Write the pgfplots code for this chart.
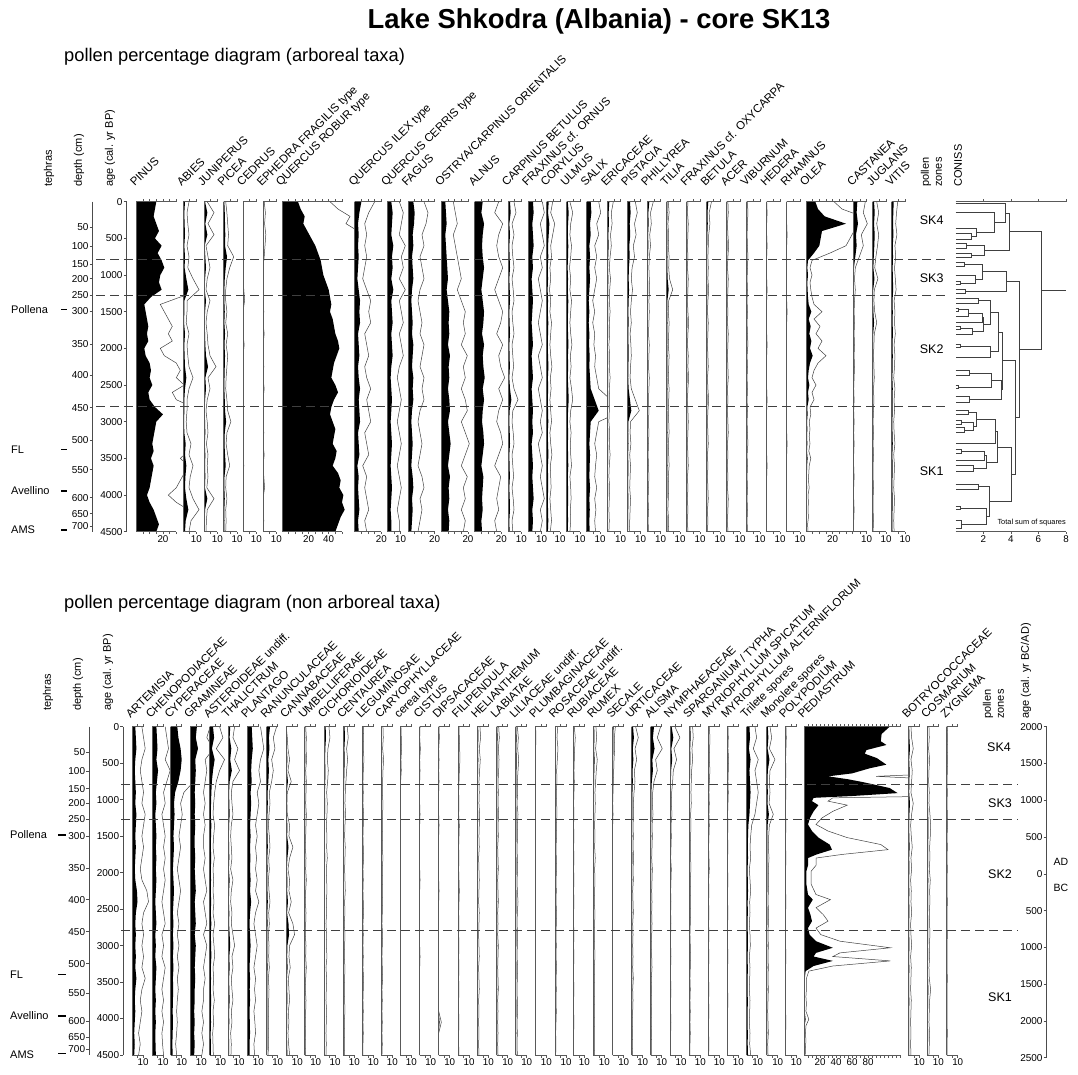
\documentclass[border=0pt]{standalone}
\usepackage{fontspec}
\setmainfont{Liberation Sans}
\usepackage{pgfplots}
\usepackage{pgfplotstable}
\pgfplotsset{compat=1.18}
\definecolor{axc}{gray}{0.35}
\definecolor{lnc}{gray}{0.25}
\tikzset{zd/.style={dash pattern=on 9pt off 5pt, black!75, line width=0.7pt}}

% ---------- arboreal taxa, 150-yr grid (rows = taxa, transposed below) ----------
\pgfplotstableread[header=false]{
age 0 150 300 450 600 750 900 1050 1200 1350 1500 1650 1800 1950 2100 2250 2400 2550 2700 2850 3000 3150 3300 3450 3600 3750 3900 4050 4200 4350 4500
abi 1.5 1 1.2 1.5 1 1.5 1.2 2.5 4 1 1 0.8 1.5 1 1.2 1.5 2.5 1.5 1 1 0.8 1 2 1.5 2.5 1.8 1.5 2.5 4 2 1.5
jun 0.8 2.5 1 2.5 0.5 1 1.5 0.8 0.5 1.5 0.8 0.5 0.8 1 1.5 3 1 1.5 0.8 0.5 0.8 1 0.6 1 0.8 1 0.7 2.5 0.8 0.6 0.5
pic 0.5 0.8 1 1.2 1 2.5 1.5 0.8 0.5 0.5 0.8 0.5 1 0.6 1 0.8 0.6 0.5 0.8 1 1.8 0.8 0.6 1 1.5 0.6 0.5 0.8 0.5 0.6 0.5
ced 0 0 0 0 0 0 0 0 0.2 0.4 0 0 0 0.3 0 0 0 0 0 0 0 0 0 0 0.2 0 0 0 0 0 0
eph 0.3 0.6 0.4 0.7 0.5 0.3 0 0 0 0 0.2 0 0.3 0 0 0.2 0 0.3 0 0 0 0.2 0 0.3 0 0.2 0.4 0 0 0.2 0
qil 5 3.5 2.5 3 2.5 3 2.5 2 3 4 3.5 4 2.5 3 3.5 2.5 3 4 3 3.5 4 2.5 3 3.5 2 3 2.5 3 3.5 2.5 3
qce 3 4 3.5 3 4.5 3.5 4 3 4.5 3 3.5 4 3 3.5 4 3 2.5 3 3.5 3 2.5 3 3.5 3 2.5 3 3.5 3 2.5 3 3
fag 4 5 4.5 3.5 4 3 3.5 4 3 2.5 3 3.5 3 4 3.5 3 4 3.5 4 3 2.5 3 3.5 3 2.5 3.5 4 3 3.5 3 2.5
ost 3 3.5 4 3 3.5 4 4.5 5 4 5 6 5.5 6 5 6.5 5.5 6 5 6 6.5 5 6 7 6 5 6.5 5.5 6 5 6 5.5
aln 6 5 7 6 5.5 6 7 6 5 6 7 6.5 5.5 7 6 6.5 7.5 6 7 6 5.5 6.5 7 6 5 6.5 6 5.5 6 5 5.5
cab 1.5 2 1 1.5 1 1.2 1.5 1 1.3 1.5 1 1.2 1.5 1 1.2 1.4 1 1.5 2.5 1.2 1 1.3 1.5 1 1.2 1.4 1 1.3 1.5 1 1.2
fro 3.5 4 3 3.5 4 3 3.5 2.5 3 3.5 3 2.5 3 3.5 2.5 3 3.5 2.5 3 3.5 3 3.5 2.5 3 3.5 3 3.5 4 3 3.5 3
cor 1.5 1 2 1.5 1 1.2 0.8 1 0.7 1 0.8 1.2 1 0.8 1 1.3 0.9 1.1 0.8 1 1.2 0.8 1 1.3 0.9 1 1.1 0.8 1 1.2 0.9
ulm 0.8 1.5 1 0.8 1.2 1 0.7 1 0.8 1.2 1 0.8 1 1.3 0.9 1.1 0.8 1.2 1.5 1 0.8 1.1 0.9 1 1.2 0.8 1 1.1 0.9 1 0.8
sal 3 3.5 2.5 3 2 2.5 2 2.5 2 1.5 2 1.5 2 1.8 2.2 2 2.5 3 6 9 3 2.5 2 2.5 2.2 2 2.5 2 2.3 2 2.2
eri 1.5 1 1.2 0.8 1 0.7 0.5 0.8 0.6 0.5 0.7 0.5 0.6 0.4 0.6 0.5 0.7 0.5 0.6 0.5 0.4 0.6 0.5 0.7 0.5 0.4 0.6 0.5 0.4 0.5 0.4
pis 2 2.5 1.8 2.2 1.5 1.8 1.2 1 1.3 1 0.8 1 0.7 0.9 1 0.8 0.7 1 2 3 0.8 0.7 0.9 0.6 0.8 0.7 0.6 0.8 0.7 0.6 0.5
phi 1.5 0.8 1 0.6 0.8 0.5 0.4 0.5 0.6 0.4 0.5 0.4 0.3 0.5 0.4 0.3 0.5 0.4 0.3 0.4 0.3 0.4 0.3 0.2 0.3 0.4 0.3 0.2 0.3 0.2 0.3
til 0.4 0.6 0.3 0.5 0.4 0.6 0.5 0.7 1.5 0.5 0.4 0.6 0.5 0.4 0.6 0.5 0.4 0.6 0.5 0.4 0.5 0.6 0.4 0.5 0.6 0.4 0.5 0.4 0.3 0.5 0.4
fox 0.3 0.2 0.4 0.3 0.2 0.3 0.2 0.4 0.3 0.2 0.3 0.5 0.3 0.2 0.4 0.3 0.5 0.3 0.2 0.3 0.4 0.3 0.2 0.3 0.4 0.2 0.3 0.2 0.3 0.2 0.3
bet 1.2 0.6 0.8 0.5 0.4 0.3 0.4 0.3 0.5 0.3 0.2 0.4 0.3 0.2 0.3 0.4 0.2 0.3 0.5 0.3 0.2 0.3 0.4 0.2 0.3 0.2 0.3 0.4 0.2 0.3 0.2
ace 0.3 0.4 0.2 0.3 0.5 0.3 0.2 0.4 0.3 0.2 0.3 0.2 0.4 0.3 0.2 0.3 0.4 0.2 0.3 0.2 0.3 0.4 0.2 0.3 0.2 0.3 0.2 0.4 0.3 0.2 0.3
vib 0.2 0.3 0.2 0.1 0.2 0.3 0.2 0.1 0.2 0.1 0.2 0.1 0.2 0.3 0.1 0.2 0.1 0.2 0.1 0.2 0.1 0.2 0.3 0.1 0.2 0.1 0.2 0.1 0.2 0.1 0.2
hed 0 0.1 0 0 0.1 0 0 0 0.1 0 0 0 0 0.1 0 0 0 0 0.1 0 0 0 0 0 0.1 0 0 0 0 0 0
rha 0 0 0 0.1 0 0 0 0 0 0 0.1 0 0 0 0 0 0 0 0 0 0 0 0.1 0 0 0 0 0 0 0 0
cas 3 2.5 3.5 2 2.5 1.5 0.5 0.3 0.5 0.3 0.2 0.3 0.2 0.3 0.2 0.3 0.2 0.1 0.2 0.1 0.2 0.1 0.2 0.1 0.1 0.2 0.1 0.1 0.2 0.1 0.1
jug 1 1.5 1 1.5 1.2 0.8 0.5 1.3 0.4 0.3 0.5 1 0.4 0.3 0.2 0.3 0.4 0.2 0.3 0.2 0.1 0.2 0.1 0.2 0.1 0.1 0.2 0.1 0.1 0.2 0.1
vit 1.5 1.2 1 1.3 0.8 1 0.7 0.9 1.1 0.6 0.8 0.7 0.9 0.6 0.8 0.7 0.5 0.8 0.6 0.7 0.5 0.6 0.8 0.5 0.7 0.6 0.5 0.7 0.6 0.5 0.6
}\Ttopraw
\pgfplotstabletranspose[colnames from=0]{\Ttop}{\Ttopraw}

% ---------- main arboreal curves, 100-yr grid ----------
\pgfplotstableread{
age pin qrob ole
0 15 12 7
100 14 14 9
200 13 17 14
300 15 16 30
400 17 19 12
500 14 22 11
600 19 25 10
700 16 27 6
800 19 29 1.5
900 21 30 1
1000 18 31 1.5
1100 17 33 1
1200 19 35 1.2
1300 11 36 1.5
1400 6 37 2
1500 7 36 4
1600 8 38 2
1700 9 39 3.5
1800 8 40 2.5
1900 9 42 4
2000 6 43 3
2100 7 41 5
2200 10 39 3
2300 11 38 2
2400 10 37 1.5
2500 12 40 2.5
2600 9 42 1.5
2700 10 39 2
2800 14 37 1
2900 20 36 1.2
3000 15 38 0.8
3100 14 40 1
3200 13 39 0.8
3300 12 38 1
3400 13 41 0.7
3500 11 40 1.2
3600 13 38 0.8
3700 12 42 0.7
3800 11 44 0.6
3900 10 43 0.8
4000 8 46 0.5
4100 10 45 0.6
4200 13 47 0.5
4300 15 44 0.6
4400 17 42 0.4
4500 15 40 0.5
}\Tdet

% ---------- non arboreal taxa, 150-yr grid ----------
\pgfplotstableread[header=false]{
age 0 150 300 450 600 750 900 1050 1200 1350 1500 1650 1800 1950 2100 2250 2400 2550 2700 2850 3000 3150 3300 3450 3600 3750 3900 4050 4200 4350 4500
art 3 3.5 4 3 2.5 3 3.5 3 4 3.5 3 3.5 3 2.5 3 4.5 5 3.5 3 3.5 3 3.5 3 4 3 2.5 3 2.5 2 2.5 2
che 4 4.5 5 4 5.5 4.5 3.5 4 3 3.5 4 3.5 4 3.5 4 3.5 3 3.5 4 3 3.5 3 4 3.5 3 3.5 3 3.5 3 3.2 3.5
cyp 6 7 9 10 9 7 4 3 3.5 3 2.5 3 2.5 2 2.5 3 2.5 2 2.5 2 2.5 2 2.5 2 2.3 2 1.8 2 1.8 1.5 1.8
gra 6 5 7 4.5 5 4.5 4 4.5 4 4.5 4 4 4.5 4 4.5 5 4 4.5 5 4 5 4.5 4 4.5 4 4 3.5 4 3.5 4 3.5
ast 3 4 2 4.5 3 2 1.5 1.2 1 1.5 1.2 1 1.4 1 1.2 1 1.3 1 1.5 1 1.3 1.5 1 1.2 1 1.4 1 1.2 0.9 1 1.1
tha 2 1.5 3 2 3.5 1.5 1 1.2 1.5 1 0.8 1 1.2 0.8 1.5 1 0.8 1.2 1 1.5 2 1.2 1.5 1 1.2 1.5 1 1.2 0.8 1 0.9
pla 4 4.5 5 4 3.5 4 3 3.5 3 2.5 3 2.5 2.8 2.5 3 2.5 3.5 2.5 2 2.5 3 2.5 2 2.5 2.2 2.5 2 2.3 2.5 2 2.2
ran 3 2 2.5 1.5 2 1.5 0.8 1 0.7 0.5 0.8 1 0.6 0.8 0.5 0.7 1 0.6 0.8 0.5 0.7 0.6 0.8 0.5 0.7 0.6 0.5 0.6 0.5 0.6 0.4
can 0 0.3 0.5 1 0.5 1.5 0.3 0.2 0.3 1 0.8 2 1 0.5 1 0.8 1.5 0.7 2 2.5 1 0.8 1.2 0.6 0.8 1 0.6 0.8 0.5 0.7 1
umb 0.3 0.5 0.4 0.6 0.3 0.5 0.4 0.3 0.5 0.4 0.3 0.2 0.4 0.3 0.5 0.3 0.2 0.4 0.3 0.2 0.4 0.3 0.5 0.3 0.2 0.4 0.3 0.2 0.3 0.2 0.3
cic 1.5 1.8 1.2 1 1.3 1.1 0.8 1 0.9 0.7 0.9 0.8 1 0.7 0.8 0.9 0.7 0.8 0.6 0.8 0.7 0.9 0.6 0.8 0.7 0.6 0.8 0.7 0.6 0.7 0.6
cen 1.2 1.5 1 1.3 1 0.8 0.6 0.5 0.7 0.5 0.4 0.6 0.5 0.4 0.5 0.6 0.4 0.5 0.3 0.5 0.4 0.3 0.5 0.4 0.3 0.4 0.5 0.3 0.4 0.3 0.4
leg 0.3 0.4 0.3 0.5 0.3 0.2 0.3 0.2 0.4 0.3 0.2 0.3 0.4 0.2 0.3 0.2 0.3 0.4 0.2 0.3 0.2 0.3 0.2 0.4 0.3 0.2 0.3 0.2 0.3 0.2 0.2
car 0.5 0.6 0.4 0.7 0.5 0.4 0.3 0.5 0.4 0.3 0.4 0.3 0.5 0.3 0.4 0.3 0.4 0.3 0.2 0.4 0.3 0.2 0.3 0.4 0.2 0.3 0.2 0.3 0.2 0.3 0.2
cer 0.2 0.3 0.4 0.2 0.3 0.1 0 0.1 0 0 0.1 0 0 0.1 0 0 0 0.1 0 0 0 0 0.1 0 0 0 0 0 0 0 0
cis 0.1 0 0.2 0 0.1 0 0 0 0.1 0 0 0 0 0 0.1 0 0 0 0 0 0 0.1 0 0 0 0 0 0 0 0 0
dip 0.1 0.2 0 0.1 0 0.1 0 0 0 0.1 0 0 0 0 0 0.1 0 0 0 0 0 0 0 0 0 0 0 0.8 0 0 0
fil 0.3 0.4 0.5 0.6 0.4 0.3 0.2 0.3 0.2 0.4 0.3 0.2 0.3 0.2 0.3 0.4 0.3 0.2 0.3 0.2 0.3 0.2 0.3 0.2 0.3 0.2 0.2 0.3 0.2 0.2 0.3
hel 0.8 1 0.6 0.9 0.7 0.5 0.6 0.5 0.7 0.6 0.5 0.6 0.4 0.5 0.6 0.5 0.4 0.6 0.5 0.4 0.5 0.6 0.4 0.5 0.6 0.4 0.5 0.4 0.5 0.4 0.5
lab 0.6 0.8 0.5 0.7 0.6 0.4 0.5 0.4 0.6 0.4 0.5 0.3 0.4 0.5 0.3 0.4 0.5 0.3 0.4 0.3 0.5 0.4 0.3 0.4 0.5 0.3 0.4 0.3 0.4 0.3 0.4
lil 0.5 0.8 0.6 0.9 0.7 0.5 0.6 0.4 0.7 0.5 0.6 0.4 0.5 0.6 0.4 0.5 0.7 0.5 0.4 0.6 0.5 0.4 0.6 0.5 0.4 0.5 0.6 0.4 0.5 0.4 0.5
plu 0.1 0.2 0.1 0 0.1 0 0.1 0 0 0.1 0 0 0.1 0 0 0 0.1 0 0 0 0.1 0 0 0 0 0.1 0 0 0 0 0
ros 0.8 0.6 0.9 0.7 0.5 0.6 0.4 0.5 0.6 0.4 0.5 0.3 0.4 0.5 0.3 0.4 0.3 0.5 0.4 0.3 0.4 0.3 0.5 0.3 0.4 0.3 0.4 0.3 0.2 0.3 0.2
rub 0.3 0.6 0.4 0.3 0.2 0.3 0.2 0.1 0.2 0.1 0.2 0.1 0.2 0.1 0.2 0.1 0.2 0.1 0.1 0.2 0.1 0.2 0.1 0.1 0.2 0.1 0.1 0.2 0.1 0.1 0.1
rum 0.8 1 0.7 1.2 0.9 0.7 0.5 0.6 0.5 0.4 0.5 0.4 0.6 0.4 0.5 0.4 0.3 0.5 0.4 0.3 0.4 0.5 0.3 0.4 0.3 0.4 0.3 0.4 0.3 0.3 0.4
sec 0.8 0.5 0.6 0.4 0.3 0.2 0.1 0 0.1 0 0 0 0 0 0 0 0 0 0 0 0 0 0 0 0 0 0 0 0 0 0
urt 1.2 2 1 1.5 0.8 1 0.7 0.5 0.6 0.4 0.5 0.4 0.6 0.4 0.5 0.3 0.4 0.5 0.3 0.4 0.3 0.4 0.3 0.5 0.3 0.4 0.3 0.2 0.3 0.2 0.3
ali 3 2 3.5 1.5 2 1 0.6 0.5 0.7 0.4 0.5 0.4 0.3 0.5 0.4 0.3 0.4 0.3 0.4 0.3 0.2 0.3 0.4 0.2 0.3 0.2 0.3 0.2 0.3 0.2 0.2
nym 1.5 3 1.2 2 1 0.8 0.5 0.4 0.6 0.3 0.4 0.3 0.2 0.4 0.3 0.2 0.3 0.2 0.3 0.2 0.2 0.3 0.2 0.2 0.3 0.2 0.2 0.3 0.2 0.2 0.2
spa 1 1.2 0.8 1 0.7 0.6 0.5 0.6 0.4 0.5 0.4 0.3 0.4 0.5 0.3 0.4 0.3 0.4 0.3 0.2 0.3 0.4 0.3 0.2 0.3 0.2 0.3 0.2 0.3 0.2 0.2
msp 0.3 0.5 0.4 0.3 0.5 0.3 0.2 0.3 0.2 0.3 0.2 0.1 0.2 0.3 0.1 0.2 0.1 0.2 0.1 0.2 0.1 0.2 0.1 0.1 0.2 0.1 0.2 0.1 0.1 0.2 0.1
mal 0.2 0.3 0.2 0.4 0.3 0.2 0.3 0.2 0.1 0.2 0.1 0.2 0.1 0.1 0.2 0.1 0.1 0.2 0.1 0.1 0.1 0.2 0.1 0.1 0.1 0.2 0.1 0.1 0.1 0.1 0.1
tri 2.5 3 2 3.5 2.5 3 3.5 3 2.5 1.5 1.2 1 1.2 0.8 1 1.2 0.9 1 0.8 1 1.1 0.8 1 0.9 0.8 1 0.9 0.8 1 0.9 1.2
mon 1 1.5 0.8 2.5 1 0.8 1 0.7 2 0.8 0.6 0.5 0.7 0.5 0.6 0.5 0.4 0.6 0.5 0.4 0.5 0.4 0.5 0.4 0.5 0.4 0.3 0.4 0.5 0.3 0.4
pol 0.2 0.3 0.2 0.1 0.2 0.1 0.2 0.1 0.1 0.2 0.1 0.1 0.2 0.1 0.1 0.1 0.2 0.1 0.1 0.1 0.1 0.2 0.1 0.1 0.1 0.1 0.1 0.2 0.1 0.1 0.1
bot 0.8 1 1.5 0.8 1.2 1 0.8 1.5 1 0.7 0.9 1.2 0.8 1 0.7 0.9 0.8 1 0.7 0.8 1 0.7 0.9 0.8 0.7 0.9 0.8 0.7 0.8 0.7 0.8
cos 0.5 0.6 0.4 0.7 0.5 0.4 0.6 0.5 0.8 1 0.9 0.7 0.8 0.6 0.9 0.7 0.8 0.6 0.7 0.8 0.6 0.7 0.5 0.6 1 0.7 0.6 0.5 0.7 0.6 0.5
zyg 0.2 0.3 0.2 0.3 0.2 0.1 0.2 0.1 0.2 0.3 0.1 0.2 0.1 0.2 0.1 0.1 0.2 0.1 0.1 0.2 0.1 0.1 0.1 0.2 0.1 0.1 0.1 0.1 0.2 0.1 0.1
}\Tbotraw
\pgfplotstabletranspose[colnames from=0]{\Tbot}{\Tbotraw}

\pgfplotstableread{
age ped
0 107
100 97
200 96
250 103
320 78
370 76
430 91
520 103
570 82
640 60
680 30
720 55
760 74
840 107
910 117
950 60
975 12
1020 10
1075 18
1160 12
1250 7.5
1340 5
1430 10
1520 18
1615 32
1685 35
1750 16
1800 5
1900 5
1980 3
2160 3
2300 5
2370 11
2480 5
2575 8
2665 10
2760 5
2850 7
2940 15
3030 36
3100 15
3150 12
3210 36
3280 12
3350 2
3450 1
3600 1
3700 0.8
3800 1
3900 0.8
4010 2
4100 0.8
4200 0.6
4300 0.8
4400 0.6
4500 0.5
}\Tped

\pgfplotsset{
  every axis/.append style={/pgf/number format/assume math mode=true},
  pcol/.style={scale only axis, anchor=north west, xmin=0, ymin=0, ymax=4500, y dir=reverse,
    axis line style={draw=none}, ytick=\empty, xtick pos=both, xticklabel pos=left,
    tick align=outside, major tick length=2.5pt, tick style={axc, line width=0.5pt},
    xticklabel style={font=\fontsize{9.8}{9.8}\selectfont, inner sep=1pt},
    clip mode=individual},
  vax/.style={scale only axis, anchor=north west, width=1pt, xmin=0, xmax=1, ymin=0, ymax=4500, y dir=reverse,
    axis x line=none, axis y line*=left, tick align=outside, major tick length=3pt,
    axis line style={black!70, line width=0.6pt}, tick style={black!70, line width=0.6pt},
    yticklabel style={font=\fontsize{10}{10}\selectfont, inner sep=1pt}},
  frame/.style={scale only axis, anchor=north west, x=1pt, xmin=0, xmax=1078, ymin=0, ymax=4500,
    y dir=reverse, hide axis, clip=false},
}

% x, unit, xmax, column, xtick, xticklabels, tick-bar end, table
\newcommand{\colT}[8]{%
  \begin{axis}[pcol, at={(#1pt,-201.7pt)}, height=330pt, x=#2pt, xmax=#3, xtick={#5}, xticklabels={#6}]
  \addplot[fill=black, draw=none] table[x=#4, y=age] {#8} -- (0,4500) -- (0,0) -- cycle;
  \addplot[lnc, line width=0.5pt] table[x expr=3*\thisrow{#4}, y=age] {#8};
  \draw[axc, line width=0.6pt] (0,0) -- (#7,0) (0,4500) -- (#7,4500) (0,0) -- (0,4500);
  \end{axis}}
\newcommand{\colB}[8]{%
  \begin{axis}[pcol, at={(#1pt,-726.7pt)}, height=328.3pt, x=#2pt, xmax=#3, xtick={#5}, xticklabels={#6}]
  \addplot[fill=black, draw=none] table[x=#4, y=age] {#8} -- (0,4500) -- (0,0) -- cycle;
  \addplot[lnc, line width=0.5pt] table[x expr=3*\thisrow{#4}, y=age] {#8};
  \draw[axc, line width=0.6pt] (0,0) -- (#7,0) (0,4500) -- (#7,4500) (0,0) -- (0,4500);
  \end{axis}}
\newcommand{\colt}[3]{\colT{#1}{1.3333}{#2}{#3}{5,10}{,10}{10}{\Ttop}}
\newcommand{\colb}[2]{\colB{#1}{1.1}{17.5}{#2}{5,10}{,10}{10}{\Tbot}}

\newcommand{\taxT}[2]{\node[rotate=45, anchor=base west, inner sep=0pt, font=\fontsize{11.5}{11.5}\selectfont] at (#1pt-1.5pt,-187pt) {#2};}
\newcommand{\taxB}[2]{\node[rotate=45, anchor=base west, inner sep=0pt, font=\fontsize{11.5}{11.5}\selectfont] at (#1pt-1.5pt,-719pt) {#2};}
\newcommand{\vhead}[3]{\node[rotate=90, anchor=west, inner sep=0pt, font=\fontsize{11}{11}\selectfont] at (#1pt,-#2pt) {#3};}

\begin{document}
\begin{tikzpicture}
\path (0,0) rectangle (1078pt,-1074pt);

% ---------------- titles ----------------
\node[font=\bfseries\fontsize{27.4}{27.4}\selectfont] at (599pt,-21pt) {Lake Shkodra (Albania) - core SK13};
\node[anchor=west, inner sep=0pt, font=\fontsize{18.3}{18.3}\selectfont] at (64pt,-57pt) {pollen percentage diagram (arboreal taxa)};
\node[anchor=west, inner sep=0pt, font=\fontsize{18.3}{18.3}\selectfont] at (64pt,-604pt) {pollen percentage diagram (non arboreal taxa)};

% ---------------- top panel headers ----------------
\vhead{49}{187}{tephras}
\vhead{79}{187}{depth (cm)}
\vhead{110}{187}{age (cal. yr BP)}
\vhead{926}{187}{pollen}
\vhead{939}{187}{zones}
\vhead{958}{187}{CONISS}
\taxT{136.3}{PINUS}
\taxT{183}{ABIES}
\taxT{204}{JUNIPERUS}
\taxT{223.7}{PICEA}
\taxT{243}{CEDRUS}
\taxT{263}{EPHEDRA FRAGILIS type}
\taxT{282}{QUERCUS ROBUR type}
\taxT{354.7}{QUERCUS ILEX type}
\taxT{387.3}{QUERCUS CERRIS type}
\taxT{408}{FAGUS}
\taxT{441.3}{OSTRYA/CARPINUS ORIENTALIS}
\taxT{474.7}{ALNUS}
\taxT{508}{CARPINUS BETULUS}
\taxT{528.3}{FRAXINUS cf. ORNUS}
\taxT{546.7}{CORYLUS}
\taxT{566.7}{ULMUS}
\taxT{586.7}{SALIX}
\taxT{607.3}{ERICACEAE}
\taxT{627.3}{PISTACIA}
\taxT{647.3}{PHILLYREA}
\taxT{666.7}{TILIA}
\taxT{686.7}{FRAXINUS cf. OXYCARPA}
\taxT{706.7}{BETULA}
\taxT{726.7}{ACER}
\taxT{746.7}{VIBURNUM}
\taxT{766.7}{HEDERA}
\taxT{786.7}{RHAMNUS}
\taxT{806}{OLEA}
\taxT{853.3}{CASTANEA}
\taxT{872.7}{JUGLANS}
\taxT{891.7}{VITIS}

% ---------------- top panel axes ----------------
\begin{axis}[vax, at={(92.7pt,-201.7pt)}, height=330pt,
  ytick={350,606,850,1050,1271,1497,1938,2370,2809,3248,3655,4035,4255,4420},
  yticklabels={50,100,150,200,250,300,350,400,450,500,550,600,650,700}]
\addplot[draw=none] coordinates {(0,0)};
\end{axis}
\begin{axis}[vax, at={(126.7pt,-201.7pt)}, height=330pt,
  ytick={0,500,1000,1500,2000,2500,3000,3500,4000,4500},
  yticklabels={0,500,1000,1500,2000,2500,3000,3500,4000,4500}]
\addplot[draw=none] coordinates {(0,0)};
\end{axis}

\colT{136.3}{1.3333}{35}{pin}{5,10,...,30}{,,,20,,}{30}{\Tdet}
\colt{183}{15.75}{abi}
\colt{204}{14.8}{jun}
\colt{223.7}{14.5}{pic}
\colt{243}{15}{ced}
\colt{263}{14.25}{eph}
\colT{282}{1.3333}{54.5}{qrob}{5,10,...,45}{,,,20,,,40,,}{45}{\Tdet}
\colT{354.7}{1.3333}{24.45}{qil}{5,10,15,20}{,,,20}{20}{\Ttop}
\colt{387.3}{15.5}{qce}
\colT{408}{1.3333}{25}{fag}{5,10,15,20}{,,,20}{20}{\Ttop}
\colT{441.3}{1.3333}{25}{ost}{5,10,15,20}{,,,20}{20}{\Ttop}
\colT{474.7}{1.3333}{25}{aln}{5,10,15,20}{,,,20}{20}{\Ttop}
\colt{508}{15.2}{cab}
\colt{528.3}{13.8}{fro}
\colt{546.7}{15}{cor}
\colt{566.7}{15}{ulm}
\colt{586.7}{15.45}{sal}
\colt{607.3}{15}{eri}
\colt{627.3}{15}{pis}
\colt{647.3}{14.55}{phi}
\colt{666.7}{15}{til}
\colt{686.7}{15}{fox}
\colt{706.7}{15}{bet}
\colt{726.7}{15}{ace}
\colt{746.7}{15}{vib}
\colt{766.7}{15}{hed}
\colt{786.7}{14.5}{rha}
\colT{806}{1.3333}{35.5}{ole}{5,10,...,35}{,,,20,,,}{35}{\Tdet}
\colt{853.3}{14.55}{cas}
\colt{872.7}{14.25}{jug}
\colt{891.7}{14.5}{vit}

% CONISS dendrogram
\begin{axis}[pcol, at={(955.7pt,-201.7pt)}, height=330pt, x=13.79pt, xmax=8, xtick={2,4,6,8}, xticklabels={2,4,6,8}]
\addplot[lnc, line width=0.55pt, unbounded coords=jump] coordinates {
(0,430) (1.1,430) (1.1,510) (0,510) (nan,nan)
(0,360) (1.5,360) (1.5,470) (1.1,470) (nan,nan)
(0,150) (2.8,150) (2.8,415) (1.5,415) (nan,nan)
(0,20) (3.6,20) (3.6,282) (2.8,282) (nan,nan)
(0,570) (0.8,570) (0.8,630) (0,630) (nan,nan)
(0,700) (1.1,700) (1.1,760) (0,760) (nan,nan)
(0.8,600) (2.1,600) (2.1,730) (1.1,730) (nan,nan)
(3.6,151) (3.9,151) (3.9,665) (2.1,665) (nan,nan)
(0,820) (0.6,820) (0.6,880) (0,880) (nan,nan)
(0,1090) (0.3,1090) (0.3,1130) (0,1130) (nan,nan)
(0,1000) (1.4,1000) (1.4,1110) (0.3,1110) (nan,nan)
(0.6,850) (1.9,850) (1.9,1055) (1.4,1055) (nan,nan)
(0,1200) (0.7,1200) (0.7,1250) (0,1250) (nan,nan)
(1.9,952) (3.7,952) (3.7,1225) (0.7,1225) (nan,nan)
(0,1310) (1.6,1310) (1.6,1380) (0,1380) (nan,nan)
(0,1450) (0.2,1450) (0.2,1490) (0,1490) (nan,nan)
(0.2,1470) (0.9,1470) (0.9,1560) (0,1560) (nan,nan)
(0.9,1515) (1.9,1515) (1.9,1640) (0,1640) (nan,nan)
(0,1700) (0.3,1700) (0.3,1740) (0,1740) (nan,nan)
(0.3,1720) (1.2,1720) (1.2,1810) (0,1810) (nan,nan)
(1.9,1577) (2.0,1577) (2.0,1765) (1.2,1765) (nan,nan)
(1.6,1345) (2.5,1345) (2.5,1671) (2.0,1671) (nan,nan)
(0,1950) (0.3,1950) (0.3,1990) (0,1990) (nan,nan)
(0.3,1970) (2.5,1970) (2.5,2120) (0,2120) (nan,nan)
(2.5,1508) (3.1,1508) (3.1,2045) (2.5,2045) (nan,nan)
(0,2300) (1.0,2300) (1.0,2370) (0,2370) (nan,nan)
(0,2500) (0.2,2500) (0.2,2550) (0,2550) (nan,nan)
(1.0,2335) (2.6,2335) (2.6,2525) (0.2,2525) (nan,nan)
(0,2650) (1.0,2650) (1.0,2740) (0,2740) (nan,nan)
(2.6,2430) (3.3,2430) (3.3,2695) (1.0,2695) (nan,nan)
(3.1,1776) (3.4,1776) (3.4,2562) (3.3,2562) (nan,nan)
(0,2850) (0.9,2850) (0.9,2900) (0,2900) (nan,nan)
(0,2980) (0.4,2980) (0.4,3030) (0,3030) (nan,nan)
(0,3080) (0.6,3080) (0.6,3140) (0,3140) (nan,nan)
(0.4,3005) (1.3,3005) (1.3,3110) (0.6,3110) (nan,nan)
(0.9,2875) (1.5,2875) (1.5,3057) (1.3,3057) (nan,nan)
(1.5,2966) (2.9,2966) (2.9,3300) (0,3300) (nan,nan)
(0,3380) (0.4,3380) (0.4,3430) (0,3430) (nan,nan)
(0.4,3405) (2.1,3405) (2.1,3520) (0,3520) (nan,nan)
(0,3600) (1.3,3600) (1.3,3680) (0,3680) (nan,nan)
(2.1,3462) (2.2,3462) (2.2,3640) (1.3,3640) (nan,nan)
(2.9,3133) (3.0,3133) (3.0,3551) (2.2,3551) (nan,nan)
(0,3850) (1.6,3850) (1.6,3920) (0,3920) (nan,nan)
(0,4150) (0.3,4150) (0.3,4200) (0,4200) (nan,nan)
(0,4350) (0.4,4350) (0.4,4450) (0,4450) (nan,nan)
(0.3,4175) (2.2,4175) (2.2,4400) (0.4,4400) (nan,nan)
(1.6,3885) (2.4,3885) (2.4,4287) (2.2,4287) (nan,nan)
(3.0,3342) (4.0,3342) (4.0,4086) (2.4,4086) (nan,nan)
(3.4,2169) (4.3,2169) (4.3,3714) (4.0,3714) (nan,nan)
(3.7,1089) (4.6,1089) (4.6,2942) (4.3,2942) (nan,nan)
(3.9,408) (6.2,408) (6.2,2015) (4.6,2015) (nan,nan)
(6.2,1211) (8,1211)
};
\draw[axc, line width=0.6pt] (0,0) -- (8,0) (0,4500) -- (8,4500);
\end{axis}

% top frame: zones, tephras
\begin{axis}[frame, at={(0pt,-201.7pt)}, height=330pt]
\draw[zd] (96,790) -- (945,790);
\draw[zd] (96,1275) -- (945,1275);
\draw[zd] (96,2790) -- (945,2790);
\node[font=\fontsize{12.5}{12.5}\selectfont] at (931.7,252) {SK4};
\node[font=\fontsize{12.5}{12.5}\selectfont] at (931.7,1045) {SK3};
\node[font=\fontsize{12.5}{12.5}\selectfont] at (931.7,2013) {SK2};
\node[font=\fontsize{12.5}{12.5}\selectfont] at (931.7,3681) {SK1};
\draw[line width=1.3pt] (61,1467) -- (67,1467);
\draw[line width=1.3pt] (61,3376) -- (67,3376);
\draw[line width=1.3pt] (61,3945) -- (67,3945);
\draw[line width=1.3pt] (61,4477) -- (67,4477);
\node[anchor=west, inner sep=0pt, font=\fontsize{11}{11}\selectfont] at (11,1467) {Pollena};
\node[anchor=west, inner sep=0pt, font=\fontsize{11}{11}\selectfont] at (11,3376) {FL};
\node[anchor=west, inner sep=0pt, font=\fontsize{11}{11}\selectfont] at (11,3945) {Avellino};
\node[anchor=west, inner sep=0pt, font=\fontsize{11}{11}\selectfont] at (11,4477) {AMS};
\node[anchor=east, inner sep=0pt, font=\fontsize{7.4}{7.4}\selectfont] at (1066,4380) {Total sum of squares};
\end{axis}

% ---------------- bottom panel headers ----------------
\vhead{48}{711}{tephras}
\vhead{78}{711}{depth (cm)}
\vhead{108}{711}{age (cal. yr BP)}
\vhead{988}{719}{pollen}
\vhead{1001}{719}{zones}
\vhead{1026}{719}{age (cal. yr BC/AD)}
\taxB{132}{ARTEMISIA}
\taxB{152}{CHENOPODIACEAE}
\taxB{170.7}{CYPERACEAE}
\taxB{190.3}{GRAMINEAE}
\taxB{209.7}{ASTEROIDEAE undiff.}
\taxB{228}{THALICTRUM}
\taxB{247.3}{PLANTAGO}
\taxB{266.7}{RANUNCULACEAE}
\taxB{286.3}{CANNABACEAE}
\taxB{304.7}{UMBELLIFERAE}
\taxB{324}{CICHORIOIDEAE}
\taxB{343.3}{CENTAUREA}
\taxB{362.3}{LEGUMINOSAE}
\taxB{381.3}{CARYOPHYLLACEAE}
\taxB{400.3}{cereal type}
\taxB{419.7}{CISTUS}
\taxB{438.7}{DIPSACACEAE}
\taxB{458}{FILIPENDULA}
\taxB{477.3}{HELIANTHEMUM}
\taxB{496.7}{LABIATAE}
\taxB{515.7}{LILIACEAE undiff.}
\taxB{535.3}{PLUMBAGINACEAE}
\taxB{555}{ROSACEAE undiff.}
\taxB{573.3}{RUBIACEAE}
\taxB{593.3}{RUMEX}
\taxB{612.7}{SECALE}
\taxB{631.7}{URTICACEAE}
\taxB{650.7}{ALISMA}
\taxB{670}{NYMPHAEACEAE}
\taxB{689.3}{SPARGANIUM / TYPHA}
\taxB{708.3}{MYRIOPHYLLUM SPICATUM}
\taxB{727.3}{MYRIOPHYLLUM ALTERNIFLORUM}
\taxB{746.7}{Trilete spores}
\taxB{766.7}{Monolete spores}
\taxB{785.3}{POLYPODIUM}
\taxB{804}{PEDIASTRUM}
\taxB{908.3}{BOTRYOCOCCACEAE}
\taxB{927.3}{COSMARIUM}
\taxB{946.7}{ZYGNEMA}

% ---------------- bottom panel axes ----------------
\begin{axis}[vax, at={(89.3pt,-726.7pt)}, height=328.3pt,
  ytick={350,606,850,1050,1271,1497,1938,2370,2809,3248,3655,4035,4255,4420},
  yticklabels={50,100,150,200,250,300,350,400,450,500,550,600,650,700}]
\addplot[draw=none] coordinates {(0,0)};
\end{axis}
\begin{axis}[vax, at={(123.3pt,-726.7pt)}, height=328.3pt,
  ytick={0,500,1000,1500,2000,2500,3000,3500,4000,4500},
  yticklabels={0,500,1000,1500,2000,2500,3000,3500,4000,4500}]
\addplot[draw=none] coordinates {(0,0)};
\end{axis}
\begin{axis}[vax, at={(1046.7pt,-726.7pt)}, height=331pt,
  ytick={0,500,1000,1500,2000,2500,3000,3500,4000,4500},
  yticklabels={2000,1500,1000,500,0,500,1000,1500,2000,2500}]
\addplot[draw=none] coordinates {(0,0)};
\end{axis}

\colb{132}{art}
\colb{152}{che}
\colb{170.7}{cyp}
\colb{190.3}{gra}
\colb{209.7}{ast}
\colb{228}{tha}
\colb{247.3}{pla}
\colb{266.7}{ran}
\colb{286.3}{can}
\colb{304.7}{umb}
\colb{324}{cic}
\colb{343.3}{cen}
\colb{362.3}{leg}
\colb{381.3}{car}
\colb{400.3}{cer}
\colb{419.7}{cis}
\colb{438.7}{dip}
\colb{458}{fil}
\colb{477.3}{hel}
\colb{496.7}{lab}
\colb{515.7}{lil}
\colb{535.3}{plu}
\colb{555}{ros}
\colb{573.3}{rub}
\colb{593.3}{rum}
\colb{612.7}{sec}
\colb{631.7}{urt}
\colb{650.7}{ali}
\colb{670}{nym}
\colb{689.3}{spa}
\colb{708.3}{msp}
\colb{727.3}{mal}
\colb{746.7}{tri}
\colb{766.7}{mon}
\colb{785.3}{pol}
\colB{804}{0.8}{130.4}{ped}{5,10,...,120}{,,,20,,,,40,,,,60,,,,80,,,,,,,,}{120}{\Tped}
\colb{908.3}{bot}
\colb{927.3}{cos}
\colb{946.7}{zyg}

% bottom frame
\begin{axis}[frame, at={(0pt,-726.7pt)}, height=328.3pt]
\draw[zd] (121,790) -- (1018,790);
\draw[zd] (121,1275) -- (1018,1275);
\draw[zd] (121,2790) -- (1018,2790);
\node[font=\fontsize{12.5}{12.5}\selectfont] at (999,274) {SK4};
\node[font=\fontsize{12.5}{12.5}\selectfont] at (1000,1042) {SK3};
\node[font=\fontsize{12.5}{12.5}\selectfont] at (1000,2019) {SK2};
\node[font=\fontsize{12.5}{12.5}\selectfont] at (1000,3709) {SK1};
\node[font=\fontsize{10.5}{10.5}\selectfont] at (1061,1859) {AD};
\node[font=\fontsize{10.5}{10.5}\selectfont] at (1061,2215) {BC};
\draw[line width=1.3pt] (58,1484) -- (66,1484);
\draw[line width=1.3pt] (58,3395) -- (66,3395);
\draw[line width=1.3pt] (58,3966) -- (66,3966);
\draw[line width=1.3pt] (58,4480) -- (66,4480);
\node[anchor=west, inner sep=0pt, font=\fontsize{11}{11}\selectfont] at (10,1484) {Pollena};
\node[anchor=west, inner sep=0pt, font=\fontsize{11}{11}\selectfont] at (10,3395) {FL};
\node[anchor=west, inner sep=0pt, font=\fontsize{11}{11}\selectfont] at (10,3966) {Avellino};
\node[anchor=west, inner sep=0pt, font=\fontsize{11}{11}\selectfont] at (10,4500) {AMS};
\end{axis}
\end{tikzpicture}
\end{document}
